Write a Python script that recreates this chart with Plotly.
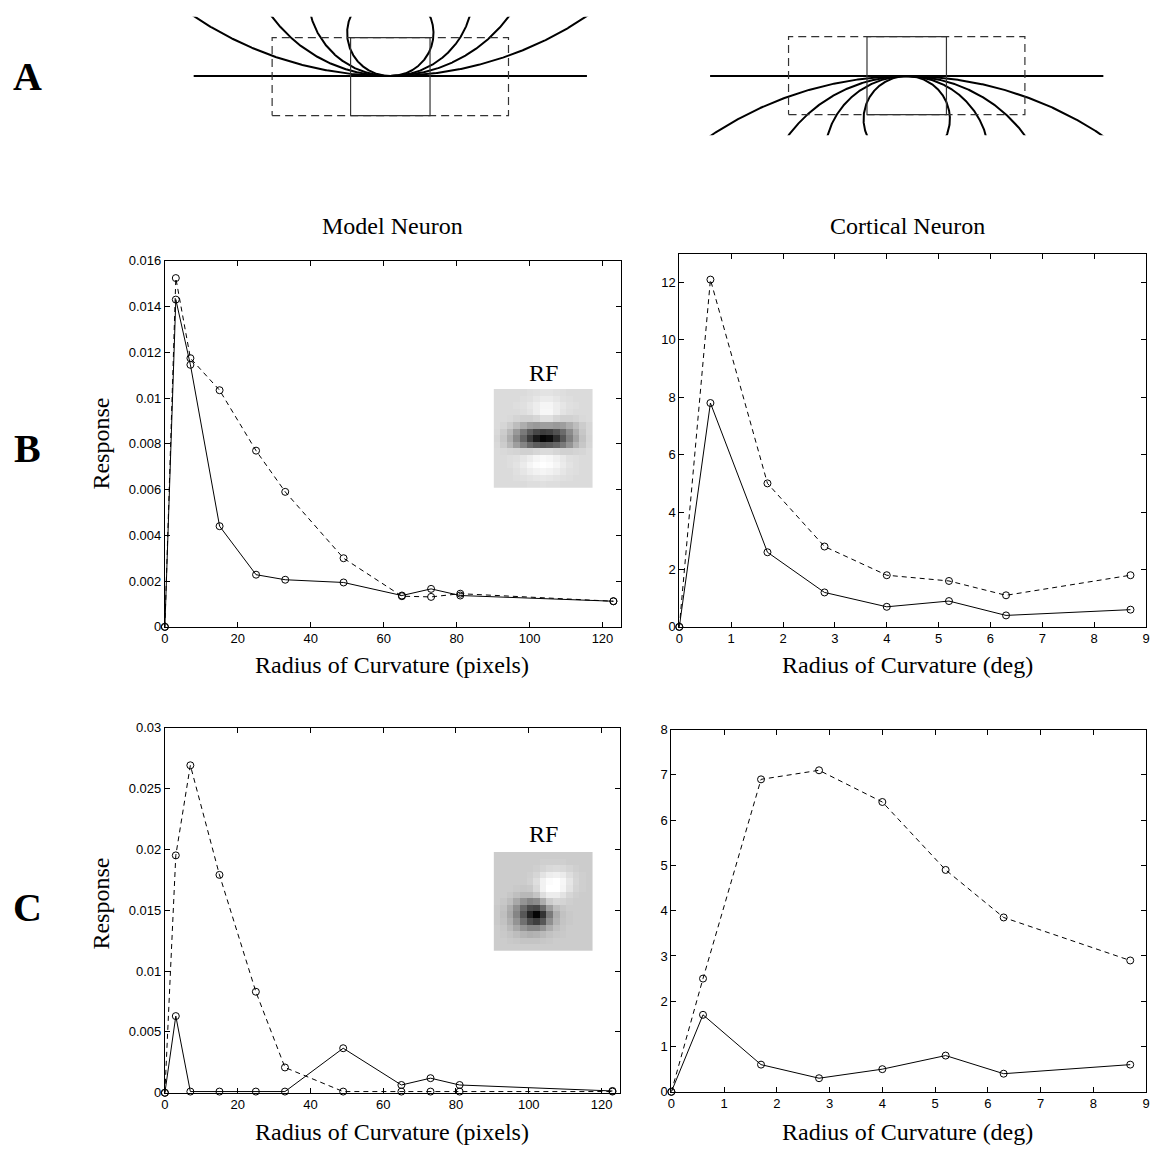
import numpy as np
import plotly.graph_objects as go

W, H = 1158, 1161

# ---------------- data ----------------
model_radius = [0, 3, 7, 15, 25, 33, 49, 65, 73, 81, 123]
cortical_radius = [0, 0.6, 1.7, 2.8, 4.0, 5.2, 6.3, 8.7]

b_model_solid = [0, 0.0143, 0.01145, 0.0044, 0.00228, 0.00206, 0.00194, 0.00137, 0.00166, 0.00137, 0.00112]
b_model_dashed = [0, 0.01524, 0.01174, 0.01034, 0.0077, 0.0059, 0.0030, 0.00134, 0.00131, 0.00145, 0.00112]
b_cort_solid = [0, 7.8, 2.6, 1.2, 0.7, 0.9, 0.4, 0.6]
b_cort_dashed = [0, 12.1, 5.0, 2.8, 1.8, 1.6, 1.1, 1.8]

c_model_solid = [0, 0.0063, 0.0001, 0.0001, 0.0001, 0.0001, 0.00366, 0.00064, 0.0012, 0.00064, 0.00015]
c_model_dashed = [0, 0.0195, 0.0269, 0.0179, 0.0083, 0.00208, 0.0001, 0.0001, 0.0001, 0.0001, 0.0001]
c_cort_solid = [0, 1.7, 0.6, 0.3, 0.5, 0.8, 0.4, 0.6]
c_cort_dashed = [0, 2.5, 6.9, 7.1, 6.4, 4.9, 3.85, 2.9]

model_xticks = [0, 20, 40, 60, 80, 100, 120]
model_xticktext = ['0', '20', '40', '60', '80', '100', '120']
cort_xticks = [0, 1, 2, 3, 4, 5, 6, 7, 8, 9]
cort_xticktext = ['0', '1', '2', '3', '4', '5', '6', '7', '8', '9']
b_model_yticks = [0, 0.002, 0.004, 0.006, 0.008, 0.010, 0.012, 0.014, 0.016]
b_model_yticktext = ['0', '0.002', '0.004', '0.006', '0.008', '0.01', '0.012', '0.014', '0.016']
b_cort_yticks = [0, 2, 4, 6, 8, 10, 12]
b_cort_yticktext = ['0', '2', '4', '6', '8', '10', '12']
c_model_yticks = [0, 0.005, 0.010, 0.015, 0.020, 0.025, 0.030]
c_model_yticktext = ['0', '0.005', '0.01', '0.015', '0.02', '0.025', '0.03']
c_cort_yticks = [0, 1, 2, 3, 4, 5, 6, 7, 8]
c_cort_yticktext = ['0', '1', '2', '3', '4', '5', '6', '7', '8']

# receptive field images (0 = black, 1 = white)
rf_b = [
    [.86, .86, .86, .86, .86, .87, .88, .89, .89, .88, .87, .86, .86, .86, .86],
    [.86, .86, .86, .86, .87, .88, .90, .92, .92, .90, .88, .87, .86, .86, .86],
    [.86, .86, .86, .87, .88, .90, .93, .96, .96, .93, .90, .88, .87, .86, .86],
    [.86, .86, .86, .86, .87, .89, .93, .97, .97, .93, .89, .87, .86, .86, .86],
    [.86, .86, .85, .83, .82, .82, .84, .88, .88, .84, .82, .82, .83, .85, .86],
    [.86, .84, .80, .74, .68, .62, .60, .62, .62, .60, .62, .68, .74, .80, .84],
    [.85, .80, .72, .60, .48, .36, .28, .24, .26, .32, .42, .55, .68, .78, .84],
    [.84, .78, .68, .54, .40, .24, .10, .02, .05, .18, .34, .50, .64, .76, .83],
    [.85, .80, .72, .62, .52, .42, .36, .34, .36, .40, .48, .58, .70, .78, .84],
    [.86, .85, .84, .83, .82, .82, .84, .86, .86, .84, .82, .82, .83, .84, .86],
    [.86, .86, .87, .88, .90, .93, .96, .98, .97, .94, .91, .88, .87, .86, .86],
    [.86, .86, .87, .89, .92, .96, .99, 1.0, .99, .96, .92, .89, .87, .86, .86],
    [.86, .86, .86, .88, .90, .93, .95, .96, .95, .93, .90, .88, .87, .86, .86],
    [.86, .86, .86, .87, .88, .89, .90, .91, .90, .89, .88, .87, .86, .86, .86],
    [.86, .86, .86, .86, .86, .87, .87, .88, .87, .87, .86, .86, .86, .86, .86],
]
rf_c = [
    [.80, .80, .80, .80, .80, .80, .80, .80, .80, .80, .80, .80, .80, .80, .80],
    [.80, .80, .80, .80, .80, .80, .80, .81, .81, .81, .81, .80, .80, .80, .80],
    [.80, .80, .80, .80, .80, .80, .81, .83, .85, .86, .85, .83, .81, .80, .80],
    [.80, .80, .80, .80, .80, .81, .84, .89, .93, .94, .92, .87, .83, .81, .80],
    [.80, .80, .80, .80, .80, .82, .87, .95, .99, 1.0, .97, .90, .84, .81, .80],
    [.80, .80, .80, .79, .78, .79, .85, .95, 1.0, 1.0, .96, .89, .83, .81, .80],
    [.80, .80, .78, .75, .72, .72, .77, .87, .93, .93, .89, .84, .81, .80, .80],
    [.80, .78, .74, .66, .58, .52, .55, .68, .80, .84, .83, .81, .80, .80, .80],
    [.79, .76, .68, .56, .42, .30, .28, .42, .62, .74, .78, .80, .80, .80, .80],
    [.79, .75, .66, .52, .34, .14, .02, .20, .48, .68, .76, .79, .80, .80, .80],
    [.79, .76, .69, .58, .44, .30, .24, .34, .56, .70, .77, .79, .80, .80, .80],
    [.80, .78, .73, .66, .58, .52, .52, .58, .68, .75, .78, .80, .80, .80, .80],
    [.80, .79, .77, .74, .71, .69, .70, .73, .76, .78, .79, .80, .80, .80, .80],
    [.80, .80, .79, .78, .77, .77, .77, .78, .79, .80, .80, .80, .80, .80, .80],
    [.80, .80, .80, .80, .80, .80, .80, .80, .80, .80, .80, .80, .80, .80, .80],
]

# stimulus schematic (panel A), in diagram pixel units
stim_radii = [43.5, 83, 148, 353]
bar_half_length = 198
rf_box_half_widths = [40, 119]

# ---------------- helpers ----------------
def dx(a, b):
    return [a / W, b / W]

def dy(top, bottom):
    return [1 - bottom / H, 1 - top / H]

tickfont = dict(family='Liberation Sans, Arial, sans-serif', size=13, color='black')

def data_axis(dom, rng, tv, tt, anchor):
    return dict(domain=dom, range=rng, tickvals=tv, ticktext=tt, anchor=anchor,
                showline=True, linecolor='black', linewidth=1, mirror='ticks',
                ticks='inside', ticklen=5, tickwidth=1, tickcolor='black',
                showgrid=False, zeroline=False, tickfont=tickfont, fixedrange=True)

hidden = dict(visible=False, showgrid=False, zeroline=False, fixedrange=True)

fig = go.Figure()

dash_style = '5px,4px'
marker = dict(symbol='circle-open', size=7, color='black', line=dict(width=1, color='black'))

def add_pair(xs, solid, dashed, xa, ya):
    fig.add_trace(go.Scatter(x=xs, y=solid, mode='lines+markers', xaxis=xa, yaxis=ya,
                             line=dict(color='black', width=1), marker=marker,
                             cliponaxis=False, showlegend=False, hoverinfo='skip'))
    fig.add_trace(go.Scatter(x=xs, y=dashed, mode='lines+markers', xaxis=xa, yaxis=ya,
                             line=dict(color='black', width=1, dash=dash_style), marker=marker,
                             cliponaxis=False, showlegend=False, hoverinfo='skip'))

add_pair(model_radius, b_model_solid, b_model_dashed, 'x', 'y')
add_pair(cortical_radius, b_cort_solid, b_cort_dashed, 'x2', 'y2')
add_pair(model_radius, c_model_solid, c_model_dashed, 'x3', 'y3')
add_pair(cortical_radius, c_cort_solid, c_cort_dashed, 'x4', 'y4')

gray = [[0, 'black'], [1, 'white']]
fig.add_trace(go.Heatmap(z=rf_b[::-1], xaxis='x5', yaxis='y5', colorscale=gray, zmin=0, zmax=1,
                         showscale=False, hoverinfo='skip'))
fig.add_trace(go.Heatmap(z=rf_c[::-1], xaxis='x6', yaxis='y6', colorscale=gray, zmin=0, zmax=1,
                         showscale=False, hoverinfo='skip'))

# panel A schematics
theta = np.linspace(0, 2 * np.pi, 3000)
for xa, ya, sign, box in (('x7', 'y7', 1, (-40, 39)), ('x8', 'y8', -1, (-39, 40))):
    for R in stim_radii:
        fig.add_trace(go.Scatter(x=R * np.sin(theta), y=sign * R * (1 - np.cos(theta)),
                                 mode='lines', xaxis=xa, yaxis=ya,
                                 line=dict(color='black', width=2), showlegend=False, hoverinfo='skip'))
    fig.add_trace(go.Scatter(x=[-bar_half_length, bar_half_length], y=[0, 0], mode='lines',
                             xaxis=xa, yaxis=ya, line=dict(color='black', width=2),
                             showlegend=False, hoverinfo='skip'))
    for hw, dsh in zip(rf_box_half_widths, ['solid', '8px,5px']):
        fig.add_trace(go.Scatter(x=[-hw, hw, hw, -hw, -hw], y=[box[0], box[0], box[1], box[1], box[0]],
                                 mode='lines', xaxis=xa, yaxis=ya,
                                 line=dict(color='#333333', width=1.2, dash=dsh),
                                 showlegend=False, hoverinfo='skip'))

layout = dict(
    width=W, height=H, autosize=False,
    margin=dict(l=0, r=0, t=0, b=0),
    paper_bgcolor='white', plot_bgcolor='rgba(0,0,0,0)',
    showlegend=False,
    xaxis=data_axis(dx(162, 621), [0, 125], model_xticks, model_xticktext, 'y'),
    yaxis=data_axis(dy(257, 628), [0, 0.016], b_model_yticks, b_model_yticktext, 'x'),
    xaxis2=data_axis(dx(680, 1150), [0, 9], cort_xticks, cort_xticktext, 'y2'),
    yaxis2=data_axis(dy(250, 628), [0, 13], b_cort_yticks, b_cort_yticktext, 'x2'),
    xaxis3=data_axis(dx(162, 620), [0, 125], model_xticks, model_xticktext, 'y3'),
    yaxis3=data_axis(dy(730, 1100), [0, 0.03], c_model_yticks, c_model_yticktext, 'x3'),
    xaxis4=data_axis(dx(672, 1150), [0, 9], cort_xticks, cort_xticktext, 'y4'),
    yaxis4=data_axis(dy(732, 1099), [0, 8], c_cort_yticks, c_cort_yticktext, 'x4'),
    xaxis5=dict(hidden, domain=dx(493, 593), anchor='y5', range=[-0.5, 14.5]),
    yaxis5=dict(hidden, domain=dy(387, 487), anchor='x5', range=[-0.5, 14.5]),
    xaxis6=dict(hidden, domain=dx(493, 593), anchor='y6', range=[-0.5, 14.5]),
    yaxis6=dict(hidden, domain=dy(856, 956), anchor='x6', range=[-0.5, 14.5]),
    xaxis7=dict(hidden, domain=dx(189, 589), anchor='y7', range=[-200, 200]),
    yaxis7=dict(hidden, domain=dy(10, 130), anchor='x7', range=[-60, 60]),
    xaxis8=dict(hidden, domain=dx(709, 1109), anchor='y8', range=[-200, 200]),
    yaxis8=dict(hidden, domain=dy(10, 130), anchor='x8', range=[-60, 60]),
)
fig.update_layout(**layout)

serif = 'Liberation Serif, Times New Roman, serif'

def ann(text, px, py, size=24, angle=0, bold=False):
    fig.add_annotation(text=('<b>%s</b>' % text) if bold else text,
                       x=px / W, y=1 - py / H, xref='paper', yref='paper',
                       xanchor='center', yanchor='middle', showarrow=False, textangle=angle,
                       font=dict(family=serif, size=size, color='black'))

ann('Model Neuron', 391, 222)
ann('Cortical Neuron', 910, 222)
ann('Radius of Curvature (pixels)', 391, 667)
ann('Radius of Curvature (deg)', 910, 667)
ann('Radius of Curvature (pixels)', 391, 1140)
ann('Radius of Curvature (deg)', 910, 1140)
ann('Response', 98, 442, angle=-90)
ann('Response', 98, 908, angle=-90)
ann('RF', 543, 371)
ann('RF', 543, 838)
ann('A', 24, 70, size=40, bold=True)
ann('B', 24, 447, size=40, bold=True)
ann('C', 24, 912, size=40, bold=True)

fig.write_html('out.html', config={'displayModeBar': False},
               post_script="document.body.style.margin='0px';document.body.style.overflow='hidden';")
